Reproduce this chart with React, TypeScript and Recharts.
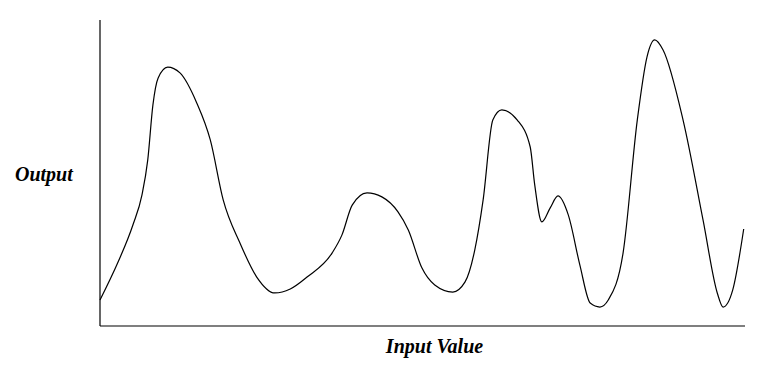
import { LineChart, Line, XAxis, YAxis, Label } from 'recharts';

// input values (0-10)
const inputValues = [
  0.0, 0.28, 0.51, 0.65, 0.74, 0.82, 0.9, 1.05, 1.24, 1.5, 1.71, 1.91, 2.17, 2.43, 2.71, 2.95,
  3.21, 3.6, 3.75, 3.91, 4.14, 4.37, 4.62, 4.78, 4.99, 5.19, 5.47, 5.66, 5.81, 5.94, 6.09, 6.23,
  6.47, 6.67, 6.74, 6.85, 6.98, 7.1, 7.26, 7.44, 7.6, 7.75, 7.88, 8.11, 8.33, 8.48, 8.6, 8.73,
  9.04, 9.35, 9.57, 9.66, 9.81, 9.98,
];

// output values (0-10)
const outputValues = [
  0.85, 2.09, 3.3, 4.28, 5.42, 7.22, 8.1, 8.46, 8.27, 7.29, 6.08, 4.12, 2.71, 1.6, 1.08, 1.21,
  1.6, 2.39, 2.97, 3.95, 4.35, 4.22, 3.73, 3.14, 1.9, 1.34, 1.11, 1.44, 2.48, 4.12, 6.73, 7.06,
  6.73, 5.85, 4.61, 3.4, 3.86, 4.25, 3.63, 1.99, 0.75, 0.62, 0.85, 2.39, 6.73, 8.79, 9.35, 9.02,
  6.73, 3.46, 1.08, 0.62, 1.18, 3.17,
];

const data = inputValues.map((x, i) => ({ x, y: outputValues[i] }));

const labelStyle = {
  fontFamily: '"Liberation Serif", "Times New Roman", serif',
  fontSize: 20,
  fontWeight: 'bold' as const,
  fontStyle: 'italic' as const,
  fill: '#000',
};

export default function App() {
  return (
    <div style={{ position: 'absolute', left: 0, top: 0, width: 783, height: 377, background: '#fff' }}>
      <LineChart width={783} height={377} data={data} margin={{ top: 20, right: 38, bottom: 0, left: 0 }}>
        <XAxis
          dataKey="x"
          type="number"
          domain={[0, 10]}
          height={51}
          tick={false}
          tickLine={false}
          axisLine={{ stroke: '#000', strokeWidth: 1.2 }}
        >
          <Label
            content={({ viewBox }: any) => (
              <text x={viewBox.x + viewBox.width / 2 + 12} y={viewBox.y + 27} textAnchor="middle" style={labelStyle}>
                Input Value
              </text>
            )}
          />
        </XAxis>
        <YAxis
          type="number"
          domain={[0, 10]}
          width={100}
          tick={false}
          tickLine={false}
          axisLine={{ stroke: '#000', strokeWidth: 1.2 }}
        >
          <Label
            content={() => (
              <text x={15} y={181} textAnchor="start" style={labelStyle}>
                Output
              </text>
            )}
          />
        </YAxis>
        <Line
          dataKey="y"
          type="monotone"
          stroke="#000"
          strokeWidth={1.2}
          dot={false}
          isAnimationActive={false}
        />
      </LineChart>
    </div>
  );
}
